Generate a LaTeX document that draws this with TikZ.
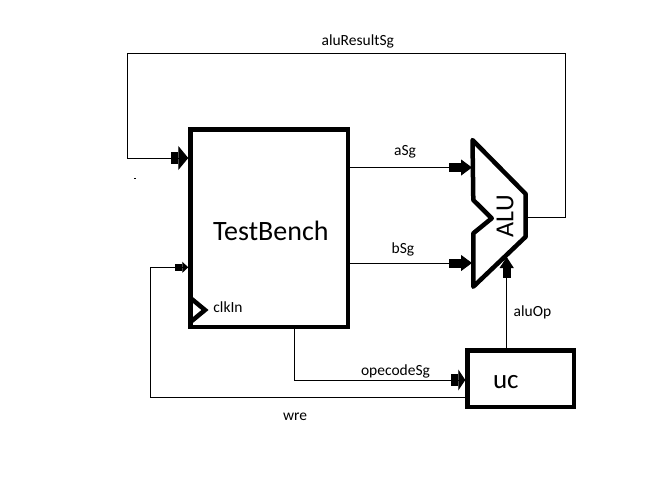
\documentclass[tikz,border=0pt]{standalone}
\usepackage{fontspec}
\setmainfont{Carlito}
\usetikzlibrary{arrows.meta}
\begin{document}
\begin{tikzpicture}[x=1pt,y=-1pt,line width=1pt,
  thickbox/.style={draw,rectangle,line width=4.5pt,inner sep=0pt},
  lbl/.style={font=\fontsize{15.5}{18}\selectfont,inner sep=0pt,anchor=base},
  bigtxt/.style={font=\fontsize{28}{32}\selectfont,inner sep=0pt,anchor=base},
  bigarr/.style={-{Rectangle[length=7pt,width=12pt,sep=0pt]Triangle[length=10pt,width=24pt]}},
  medarr/.style={-{Rectangle[length=12pt,width=9pt,sep=0pt]Triangle[length=11pt,width=16pt]}},
  ocarr/.style={-{Rectangle[length=7pt,width=12pt,sep=0pt]Triangle[length=7pt,width=21pt]}},
  uparr/.style={-{Rectangle[length=10pt,width=8pt,sep=0pt]Triangle[length=11pt,width=14pt]}},
  smallarr/.style={-{Rectangle[length=7pt,width=7pt,sep=0pt]Triangle[length=6pt,width=11pt]}}
]
\useasboundingbox (0,0) rectangle (662,477);
\fill[white] (0,0) rectangle (662,477);

% blocks
\node[thickbox,minimum width=157.5pt,minimum height=197.5pt] (tb) at (269.25,228.25) {};
\node[bigtxt] (tbt) at (270.8,240.7) {TestBench};
\node[thickbox,minimum width=106.5pt,minimum height=56.5pt] (uc) at (520.75,378.75) {};
\node[bigtxt,font=\fontsize{27}{30}\selectfont] (uct) at (505.8,388.3) {uc};

% ALU
\coordinate (a1) at (472.5,140);
\coordinate (a2) at (525.7,194);
\coordinate (a3) at (525.7,236.7);
\coordinate (a4) at (473.3,286.7);
\coordinate (a5) at (473.3,233.3);
\coordinate (a6) at (491.7,218.3);
\coordinate (a7) at (473.3,200);
\draw[line width=4.5pt,line join=round] (a1)--(a2)--(a3)--(a4)--(a5)--(a6)--(a7)--cycle;
\node[bigtxt,font=\fontsize{26}{30}\selectfont,rotate=90] (alut) at (513.3,216.2) {ALU};

% clock marker
\draw[line width=4.5pt,line join=miter] (190.5,298) -- (205,310) -- (190.5,322);
\node[lbl] (clk) at (228,312.3) {clkIn};

% aluResultSg feedback
\coordinate (aluout) at (525.7,217);
\coordinate (r1) at (565,53);
\coordinate (r2) at (127,158);
\draw[bigarr] (aluout) -| (r1) -| (r2) -- (r2 -| tb.west);
\node[lbl] (lr) at (357.8,45.7) {aluResultSg};
\draw (134,178) -- (136,178);

% aSg / bSg
\coordinate (ain) at (472,167.5);
\coordinate (bin) at (472,263);
\draw[medarr] (ain -| tb.east) -- (ain);
\draw[medarr] (bin -| tb.east) -- (bin);
\node[lbl] (la) at (405,155) {aSg};
\node[lbl] (lb) at (403,253.3) {bSg};

% aluOp
\coordinate (opin) at (506.7,257);
\draw[uparr] (opin |- uc.north) -- (opin);
\node[lbl] (lop) at (532.5,316) {aluOp};

% opecodeSg
\coordinate (oc) at (294.3,380);
\draw[ocarr] (oc |- tb.south) -- (oc) -- (oc -| uc.west);
\node[lbl] (loc) at (395.5,375) {opecodeSg};

% wre
\coordinate (w1) at (150.7,397.7);
\coordinate (w2) at (150.7,267.3);
\draw[smallarr] (w1 -| uc.west) -- (w1) -- (w2) -- (w2 -| tb.west);
\node[lbl] (lw) at (295,420) {wre};
\end{tikzpicture}
\end{document}
